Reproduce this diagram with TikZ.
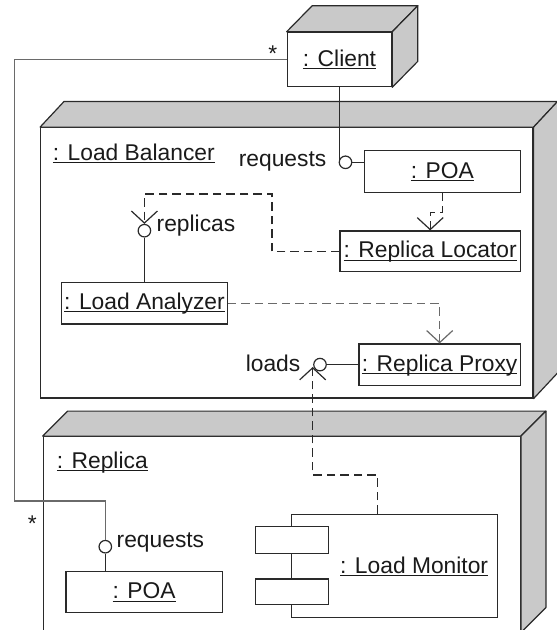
\documentclass[tikz,border=0pt]{standalone}
\usepackage{fontspec}
\setmainfont{Liberation Sans}
\usetikzlibrary{arrows.meta}
\definecolor{lc}{HTML}{2A2A2A}
\definecolor{lg}{HTML}{6A6A6A}
\definecolor{fc}{HTML}{C9C9C9}
\definecolor{tc}{HTML}{1A1A1A}
\newcommand\ulx[1]{\setbox0\hbox{#1}\rlap{\rule[-2.8pt]{\wd0}{1pt}}\box0}
\begin{document}
\begin{tikzpicture}[x=1pt,y=1pt,
  ln/.style={draw=lc, line width=1.2pt},
  lnl/.style={draw=lg, line width=1.2pt},
  face/.style={fill=fc, draw=lc, line width=1.2pt, line join=round},
  box/.style={draw=lc, line width=1.2pt, fill=white, inner sep=0pt, text height=17pt, text depth=4pt, text=tc, font=\fontsize{22.8}{27}\selectfont},
  txt/.style={inner sep=0pt, text=tc, font=\fontsize{22.8}{27}\selectfont},
  ball/.style={circle, draw=lc, line width=1.2pt, fill=white, minimum size=12.5pt, inner sep=0pt},
  dep/.style={line width=1.2pt, dash pattern=on 8.5pt off 5pt, -{Straight Barb[length=12pt,width=26pt]}},
]
\useasboundingbox (0,0) rectangle (557,-630);

% Load Balancer node
\node[box, minimum width=492.3pt, minimum height=270.3pt] (lb) at (286.85,-262.85) {};
\path[face] (lb.north west) -- ++(24,25.7) -- ([shift={(24,25.7)}]lb.north east) -- (lb.north east) -- cycle;
\path[face] (lb.north east) -- ++(24,25.7) -- ([shift={(24,25.7)}]lb.south east) -- (lb.south east) -- cycle;
\node[txt, anchor=base west] (lbl) at (52.7,-160) {\ulx{: Load Balancer}};

% Replica node
\node[box, minimum width=477pt, minimum height=195.3pt] (rep) at (281.8,-534.35) {};
\path[face] (rep.north west) -- ++(25,25) -- ([shift={(25,25)}]rep.north east) -- (rep.north east) -- cycle;
\path[face] (rep.north east) -- ++(25,25) -- ([shift={(25,25)}]rep.south east) -- (rep.south east) -- cycle;
\node[txt, anchor=base west] (repl) at (56.7,-468) {\ulx{: Replica}};

% Client node
\node[box, minimum width=104.4pt, minimum height=54.4pt] (client) at (339.5,-59.5) {\ulx{: Client}};
\path[face] (client.north west) -- ++(25.5,26) -- ([shift={(25.5,26)}]client.north east) -- (client.north east) -- cycle;
\path[face] (client.north east) -- ++(25.5,26) -- ([shift={(25.5,26)}]client.south east) -- (client.south east) -- cycle;

% inner objects
\node[box, minimum width=155.8pt, minimum height=41.6pt] (poa1) at (442.4,-171.5) {\ulx{: POA}};
\node[box, minimum width=180.3pt, minimum height=40.7pt] (rloc) at (430.2,-251.35) {\ulx{: Replica Locator}};
\node[box, minimum width=165.6pt, minimum height=41.7pt] (la) at (144.5,-303.15) {\ulx{: Load Analyzer}};
\node[box, minimum width=161.3pt, minimum height=41.7pt] (rproxy) at (439.65,-364.85) {\ulx{: Replica Proxy}};
\node[box, minimum width=156.3pt, minimum height=41pt] (poa2) at (144.15,-592.2) {\ulx{: POA}};

% Load Monitor component
\node[box, minimum width=205.8pt, minimum height=103.4pt] (lm) at (394.6,-566) {};
\node[box, minimum width=72.6pt, minimum height=26.6pt] (lm1) at (292,-540) {};
\node[box, minimum width=72.6pt, minimum height=25.3pt] (lm2) at (292,-591.65) {};
\node[txt, anchor=base west] (lml) at (340,-573) {\ulx{: Load Monitor}};

% interfaces
\node[ball] (c1) at (345.5,-162.3) {};
\node[ball] (c2) at (144.4,-230.7) {};
\node[ball] (c3) at (320,-364.6) {};
\node[ball] (c4) at (105.3,-546.7) {};
\node[txt, anchor=base east] (t1) at (326.5,-166.7) {requests};
\node[txt, anchor=base west] (t2) at (156.5,-231) {replicas};
\node[txt, anchor=base east] (t3) at (300.5,-371.7) {loads};
\node[txt, anchor=base west] (t4) at (116.5,-547) {requests};
\node[txt, anchor=base] (s1) at (272.7,-61) {*};
\node[txt, anchor=base] (s2) at (32.3,-531.3) {*};

% helper coordinates
\coordinate (k1) at (272,-194);
\coordinate (k2) at (312.7,-475);
\coordinate (k3) at (312.7,-367);
\coordinate (k6) at (14.7,-501);

% connectors
\draw[ln] (client.south) -- (client.south |- c1.west);
\draw[ln] (c1.east) -- (c1.east -| poa1.west);
\draw[dep, draw=lc] (poa1.south) -- ++(0,-19.5) -| (rloc.north);
\draw[dep, draw=lc] (rloc.west) -| (k1) -| (c2.north);
\draw[ln] (c2.south) -- (c2.south |- la.north);
\draw[dep, draw=lg] (la.east) -| (rproxy.north);
\draw[ln] (c3.east) -- (c3.east -| rproxy.west);
\draw[dep, draw=lc] ([xshift=-17.3pt]lm.north) |- (k2) -- (k3);
\draw[lnl] (client.west) -| (k6) -| (c4.north);
\draw[ln] (c4.south) -- (c4.south |- poa2.north);
\end{tikzpicture}
\end{document}
